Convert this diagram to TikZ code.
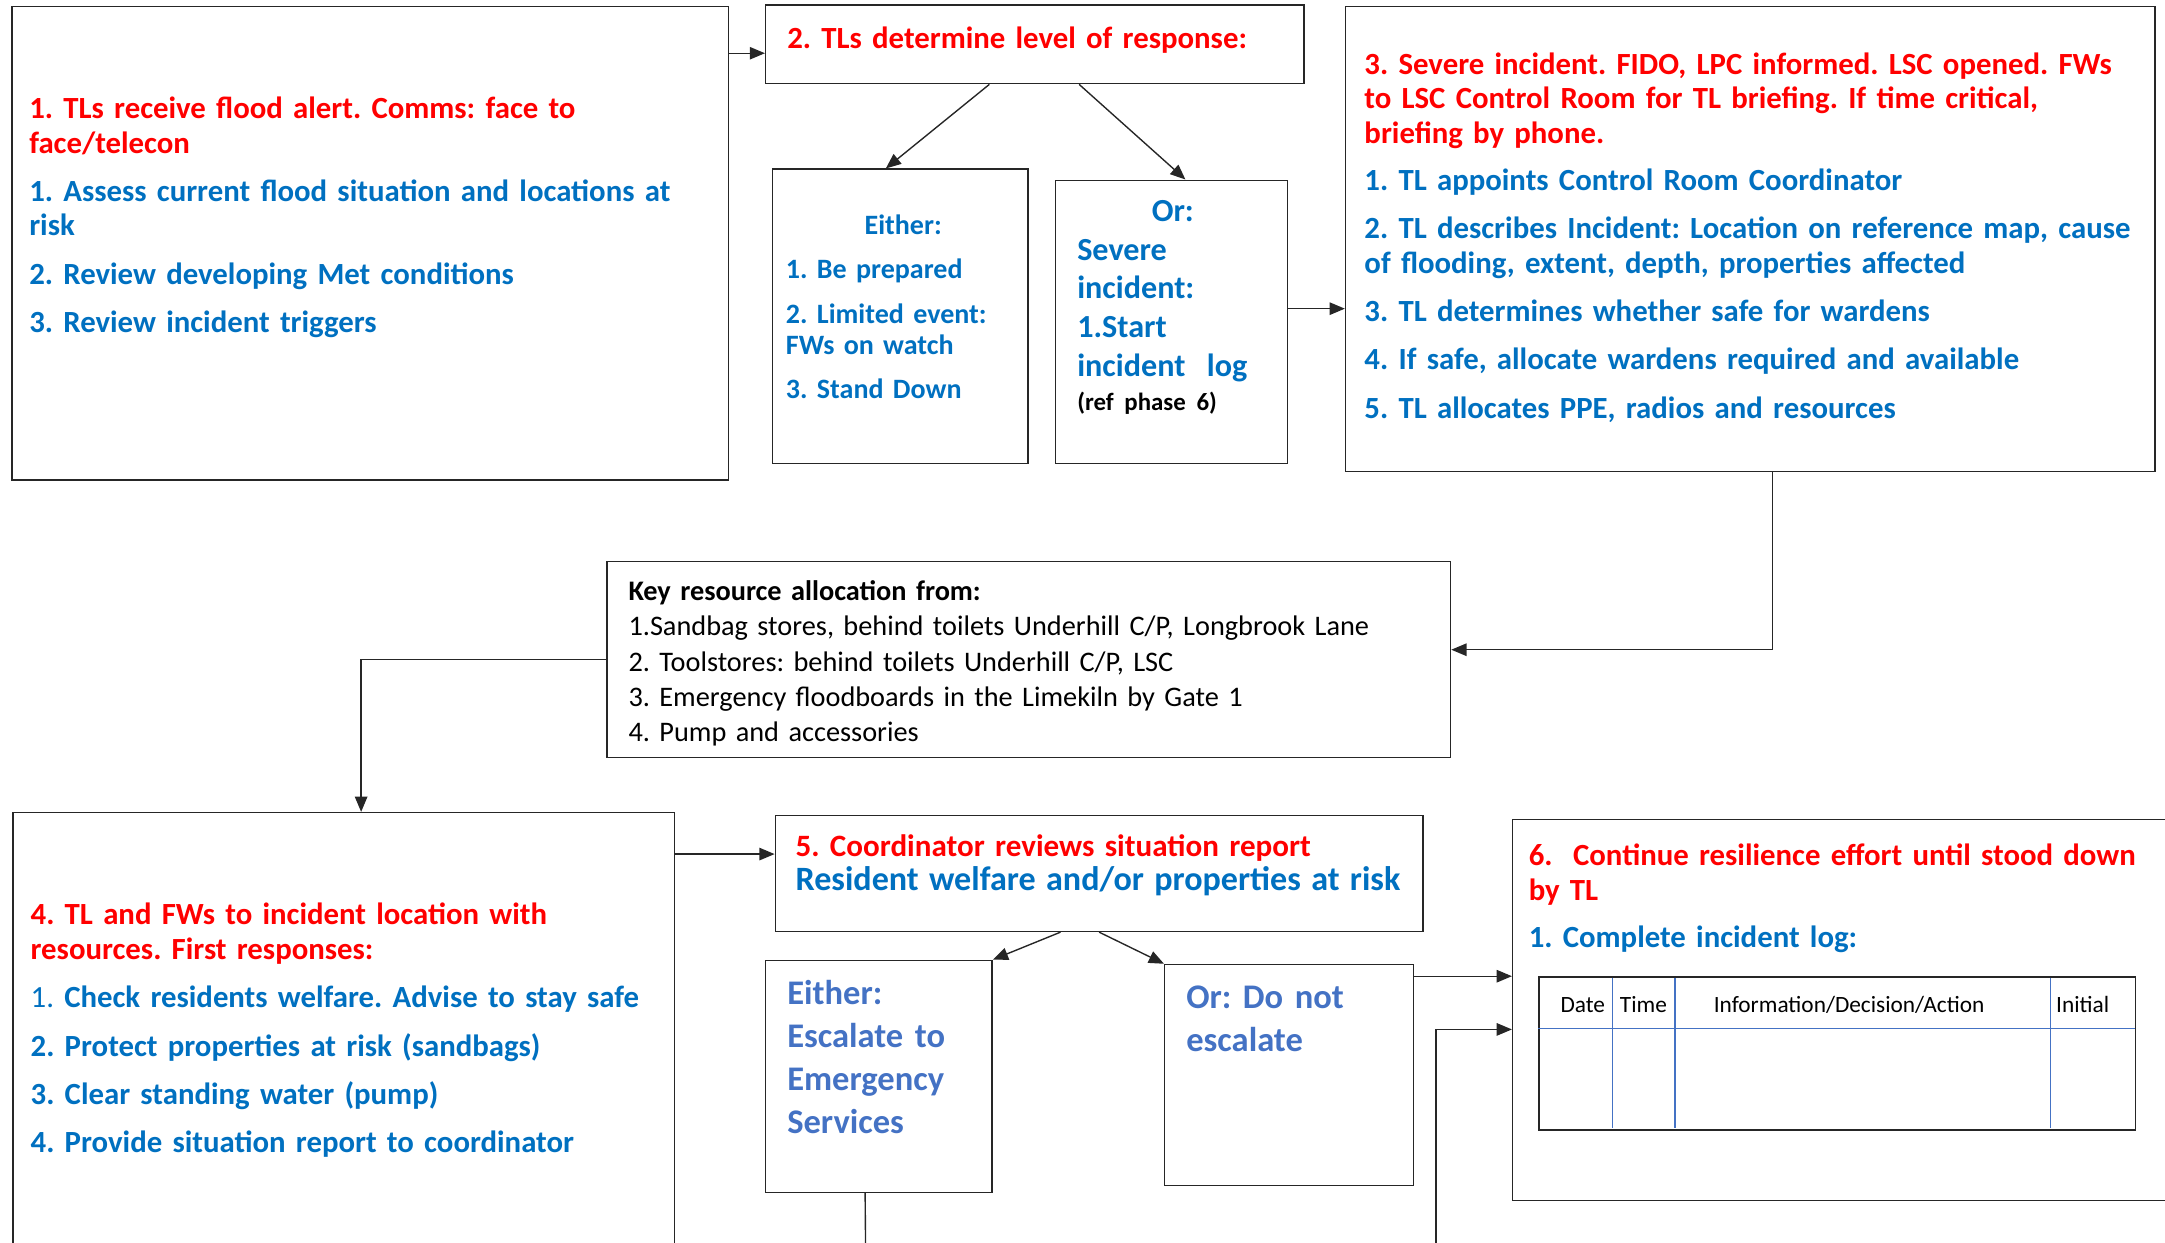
\documentclass[tikz,border=0pt]{standalone}
\usepackage{fontspec}
\setmainfont{Carlito}
\usepackage{xcolor}
\usetikzlibrary{shapes.geometric, arrows.meta, positioning}
\definecolor{alertred}{HTML}{FF0000}
\definecolor{stepblue}{HTML}{0070C0}
\definecolor{optblue}{HTML}{4472C4}
\tikzstyle{box} = [rectangle, draw=black!85, line width=1.1pt, anchor=north west, inner sep=0pt]
\tikzstyle{txt} = [anchor=north west, align=left, inner sep=0pt, text width=700pt]
\tikzstyle{hdr} = [anchor=base west, inner sep=0pt, font=\fontsize{16.9}{20}\selectfont]
\tikzstyle{grid} = [draw=optblue, line width=1pt]
\tikzstyle{arrow} = [line width=1pt, draw=black!85, -{Triangle[length=11pt,width=9pt]}]
\tikzstyle{link} = [line width=1pt, draw=black!85]
\newcommand{\mainsize}{\fontsize{22.3}{25}\selectfont\bfseries}
\frenchspacing

\begin{document}
\begin{tikzpicture}[x=1pt, y=-1pt]
\useasboundingbox (0,0) rectangle (1568,900);
\clip (0,0) rectangle (1568,900);

% boxes
\node (b1) [box, minimum width=519pt, minimum height=343pt] at (8,4) {};
\node (b2) [box, minimum width=390pt, minimum height=57pt] at (554,3) {};
\node (either) [box, minimum width=185pt, minimum height=213pt] at (559,122) {};
\node (or) [box, minimum width=168pt, minimum height=205pt] at (764,130) {};
\node (b3) [box, minimum width=586pt, minimum height=337pt] at (974,4) {};
\node (key) [box, minimum width=611pt, minimum height=142pt] at (439,406) {};
\node (b4) [box, minimum width=479pt, minimum height=340pt] at (9,588) {};
\node (b5) [box, minimum width=469pt, minimum height=84pt] at (561,590) {};
\node (either2) [box, minimum width=164pt, minimum height=168pt] at (554,695) {};
\node (or2) [box, minimum width=180pt, minimum height=160pt] at (843,698) {};
\node (b6) [box, minimum width=490pt, minimum height=276pt] at (1095,593) {};
\node (log) [box, minimum width=432pt, minimum height=111pt] at (1114,707) {};

% texts
\node (t1) [txt, font=\mainsize] at (21,70) {\color{alertred}1. TLs receive flood alert. Comms: face to\\ face/telecon\\[10pt]
\color{stepblue}1. Assess current flood situation and locations at\\ risk\\[10pt]
2. Review developing Met conditions\\[10pt]
3. Review incident triggers};
\node (t2) [txt, font=\mainsize] at (570,19) {\color{alertred}2. TLs determine level of response:};
\node (teither) [txt, font=\fontsize{20.3}{23}\selectfont\bfseries] at (569,155.5) {\color{stepblue}\hspace*{57pt}Either:\\[9pt]
1. Be prepared\\[9pt]
2. Limited event:\\ FWs on watch\\[9pt]
3. Stand Down};
\node (tor) [txt, font=\fontsize{23.3}{28}\selectfont\bfseries] at (780,145) {\color{stepblue}\hspace*{54pt}Or:\\ Severe\\ incident:\\ 1.Start\\ incident\ \ log\\[-3pt]
{\color{black}\fontsize{18}{22}\selectfont (ref phase 6)}};
\node (t3) [txt, font=\mainsize] at (988,38) {\color{alertred}3. Severe incident. FIDO, LPC informed. LSC opened. FWs\\ to LSC Control Room for TL briefing. If time critical,\\ briefing by phone.\\[9pt]
\color{stepblue}1. TL appoints Control Room Coordinator\\[10pt]
2. TL describes Incident: Location on reference map, cause\\ of flooding, extent, depth, properties affected\\[10pt]
3. TL determines whether safe for wardens\\[10pt]
4. If safe, allocate wardens required and available\\[10pt]
5. TL allocates PPE, radios and resources};
\node (tkey) [txt, font=\fontsize{20.5}{25.5}\selectfont] at (455,420.5) {\textbf{Key resource allocation from:}\\
1.Sandbag stores, behind toilets Underhill C/P, Longbrook Lane\\
2. Toolstores: behind toilets Underhill C/P, LSC\\
3. Emergency floodboards in the Limekiln by Gate 1\\
4. Pump and accessories};
\node (t4) [txt, font=\mainsize] at (22,654) {\color{alertred}4. TL and FWs to incident location with\\ resources. First responses:\\[10pt]
\color{stepblue}{\mdseries 1.} Check residents welfare. Advise to stay safe\\[10pt]
2. Protect properties at risk (sandbags)\\[10pt]
3. Clear standing water (pump)\\[10pt]
4. Provide situation report to coordinator};
\node (t5) [txt, font=\fontsize{22.5}{25}\selectfont\bfseries] at (576,604) {\color{alertred}5. Coordinator reviews situation report\\
\color{stepblue}\fontsize{24.7}{30}\selectfont Resident welfare and/or properties at risk};
\node (teither2) [txt, font=\fontsize{25}{31}\selectfont\bfseries] at (570,710) {\color{optblue}Either:\\ Escalate to\\ Emergency\\ Services};
\node (tor2) [txt, font=\fontsize{25}{31}\selectfont\bfseries] at (859,714) {\color{optblue}Or: Do not\\ escalate};
\node (t6) [txt, font=\mainsize] at (1107,611) {\color{alertred}6.\ \ Continue resilience effort until stood down\\ by TL\\[9pt]
\color{stepblue}1. Complete incident log:};

% incident log table
\draw [grid] (1114,745) -- (1546,745);
\foreach \x in {1168,1213,1485}
  \draw [grid] (\x,708) -- (\x,817);
\node (hdate) [hdr] at (1130,733) {Date};
\node (htime) [hdr] at (1173,733) {Time};
\node (hinfo) [hdr] at (1241,733) {Information/Decision/Action};
\node (hinit) [hdr] at (1489,733) {Initial};

% connectors
\coordinate (e2out) at (627,915);
\coordinate (loopin) at (1040,915);
\draw [arrow] ([yshift=-6.5pt]b2.west -| b1.east) -- ([yshift=-6.5pt]b2.west);
\draw [arrow] ([xshift=-33pt]b2.south) -- ([xshift=-10.5pt]either.north);
\draw [arrow] ([xshift=32pt]b2.south) -- ([xshift=10pt]or.north);
\draw [arrow] ([yshift=9.5pt]or.east) -- ([yshift=9.5pt]or.east -| b3.west);
\draw [arrow] ([xshift=16pt]b3.south) |- ([yshift=7pt]key.east);
\draw [arrow] (key.west) -| ([xshift=12.5pt]b4.north);
\draw [arrow] ([yshift=14pt]b5.west -| b4.east) -- ([yshift=14pt]b5.west);
\draw [arrow] ([xshift=-28pt]b5.south) -- (either2.north east);
\draw [arrow] (b5.south) -- (or2.north west);
\draw [link] ([xshift=-10pt]either2.south) -- (e2out);
\draw [arrow] ([yshift=-9pt]or2.north east) -- ([yshift=-9pt]or2.north east -| b6.west);
\draw [arrow] (loopin) |- ([yshift=-14pt]b6.west);
\end{tikzpicture}
\end{document}
